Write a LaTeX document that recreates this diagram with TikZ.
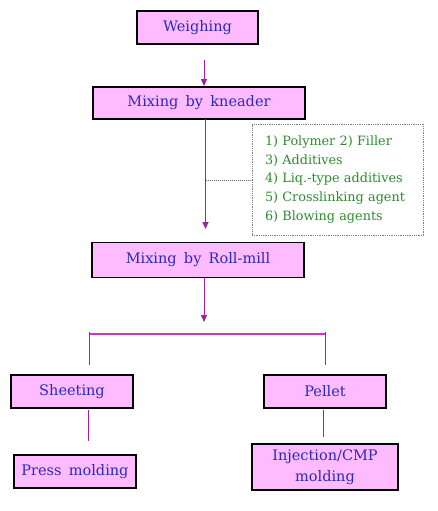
\documentclass[tikz,border=0pt]{standalone}
\usepackage{fontspec}
\setmainfont{DejaVu Serif}
\usetikzlibrary{arrows.meta}
\definecolor{boxfill}{HTML}{FFBBFF}
\definecolor{boxtext}{HTML}{2A2AB8}
\definecolor{addtext}{HTML}{2E8B2E}
\definecolor{flow}{HTML}{A020A0}
\definecolor{split}{HTML}{CC33CC}
\newcommand{\mybfont}{\fontsize{14.5}{21}\selectfont\spaceskip=0.5em\relax}
\newcommand{\myafont}{\fontsize{12.8}{18.7}\selectfont}
\tikzset{
  stepbox/.style={draw=black, line width=1.5pt, fill=boxfill, text=boxtext,
    font=\mybfont, inner sep=0pt, align=center},
  arr/.style={draw=flow, line width=0.9pt, -{Triangle[width=6pt,length=7pt]}},
  plain/.style={draw=flow, line width=0.9pt},
  splitline/.style={draw=split, line width=1.6pt},
  dotline/.style={draw=gray!80!black, line width=0.8pt, dash pattern=on 0.9pt off 1.1pt},
  addbox/.style={draw=gray, line width=0.8pt, dash pattern=on 0.9pt off 0.9pt, fill=white, text=addtext,
    font=\myafont, align=left, text width=145pt,
    inner xsep=13pt, inner ysep=0pt, minimum width=171pt, minimum height=111pt}
}
\begin{document}
\begin{tikzpicture}[x=1pt,y=-1pt]
\useasboundingbox[fill=white] (0,0) rectangle (437,511);
% main boxes
\node[stepbox, minimum width=121pt, minimum height=33pt] (weigh) at (197.5,27.5) {Weighing};
\node[stepbox, minimum width=212pt, minimum height=32pt] (knead) at (199,103) {Mixing by kneader};
\node[addbox] (add) at (337.5,179.5) {1) Polymer 2) Filler\\3) Additives\\4) Liq.-type additives\\5) Crosslinking agent\\6) Blowing agents};
\node[stepbox, minimum width=212pt, minimum height=35pt] (roll) at (198,260) {Mixing by Roll-mill};
\node[stepbox, minimum width=122pt, minimum height=33pt] (sheet) at (72,391.5) {Sheeting};
\node[stepbox, minimum width=122pt, minimum height=33pt] (pellet) at (325,391.5) {Pellet};
\node[stepbox, minimum width=122pt, minimum height=33pt] (press) at (75,471.5) {Press molding};
\node[stepbox, minimum width=146pt, minimum height=46pt] (inj) at (325,467) {Injection/CMP\\molding};
% connectors
\coordinate (a1) at (204,60);
\coordinate (a1e) at (204,86);
\draw[arr] (a1) -- (a1e);
\coordinate (a2) at (205.5,119);
\coordinate (a2e) at (205.5,229);
\draw[arr] (a2) -- (a2e);
\coordinate (d1) at (205.5,180);
\draw[dotline] (d1) -- (add.west |- d1);
\coordinate (a3) at (204,278);
\coordinate (a3e) at (204,322);
\draw[arr] (a3) -- (a3e);
\coordinate (hl) at (89,334);
\coordinate (hr) at (325,334);
\draw[splitline] (hl) -- (hr);
\coordinate (hlt) at (89,332);
\coordinate (hlb) at (89,365);
\coordinate (hrt) at (325,332);
\coordinate (hrb) at (325,365);
\draw[plain] (hlt) -- (hlb);
\draw[plain] (hrt) -- (hrb);
\coordinate (s1) at (88,410);
\coordinate (s1e) at (88,441);
\draw[plain] (s1) -- (s1e);
\coordinate (p1) at (323,410);
\coordinate (p1e) at (323,437);
\draw[plain] (p1) -- (p1e);
\end{tikzpicture}
\end{document}
